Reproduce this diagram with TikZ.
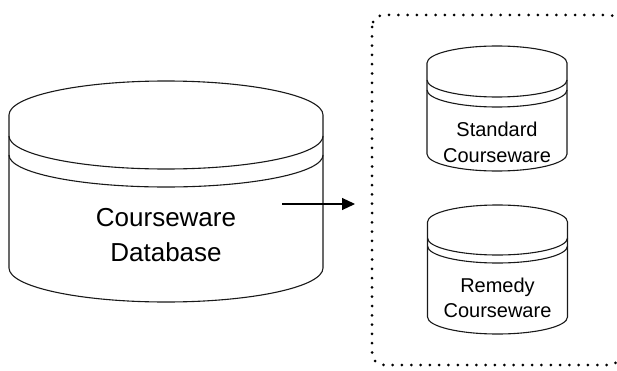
\documentclass[tikz,border=0pt]{standalone}
\usepackage{fontspec}
\setmainfont{Liberation Sans}
\usetikzlibrary{arrows.meta}
\begin{document}
\begin{tikzpicture}[x=1pt,y=1pt,
  cylline/.style={line width=1.1pt, draw=black!90, line join=round},
  bigtext/.style={align=center, inner sep=0pt, font=\fontsize{26}{35}\selectfont},
  smalltext/.style={align=center, inner sep=0pt, font=\fontsize{20}{25.5}\selectfont},
  dotbox/.style={line width=3pt, dash pattern=on 0pt off 9.3pt, line cap=round, rounded corners=12pt},
  flow/.style={line width=1.1pt, -{Triangle[length=13pt,width=12pt]}}]
\useasboundingbox (0,0) rectangle (617,370);
\clip (0,0) rectangle (617,370);
% big cylinder
\draw[cylline] (9,255) arc[start angle=180,end angle=0,x radius=157,y radius=34]
  -- (323,102) arc[start angle=0,end angle=-180,x radius=157,y radius=34] -- cycle;
\draw[cylline] (9,234) arc[start angle=180,end angle=360,x radius=157,y radius=33];
\draw[cylline] (9,215) arc[start angle=180,end angle=360,x radius=157,y radius=32];
\node[bigtext] (db) at (166,135) {Courseware\\Database};
% standard courseware cylinder
\draw[cylline] (427,307) arc[start angle=180,end angle=0,x radius=70,y radius=17]
  -- (567,216) arc[start angle=0,end angle=-180,x radius=70,y radius=17] -- cycle;
\draw[cylline] (427,290) arc[start angle=180,end angle=360,x radius=70,y radius=17];
\draw[cylline] (427,280) arc[start angle=180,end angle=360,x radius=70,y radius=17];
\node[smalltext] (std) at (497,227.8) {Standard\\Courseware};
% remedy courseware cylinder
\draw[cylline] (427.5,148) arc[start angle=180,end angle=0,x radius=70,y radius=17]
  -- (567.5,53) arc[start angle=0,end angle=-180,x radius=70,y radius=17] -- cycle;
\draw[cylline] (427.5,132) arc[start angle=180,end angle=360,x radius=70,y radius=17];
\draw[cylline] (427.5,124) arc[start angle=180,end angle=360,x radius=70,y radius=17];
\node[smalltext] (rem) at (497.5,72.3) {Remedy\\Courseware};
% dotted group box
\draw[dotbox] (372,355) rectangle (621,5);
% arrow
\coordinate (a1) at (282,166);
\coordinate (a2) at (355,166);
\draw[flow] (a1) -- (a2);
\end{tikzpicture}
\end{document}
